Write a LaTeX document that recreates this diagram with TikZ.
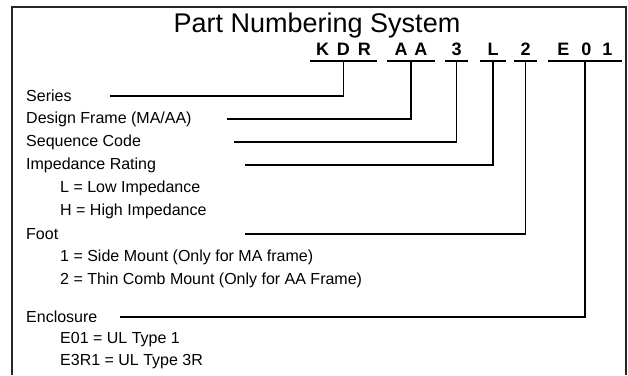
\documentclass[tikz,border=0pt]{standalone}
\usepackage{fontspec}
\setmainfont{Liberation Sans}
\begin{document}
\begin{tikzpicture}[x=1pt,y=-1pt,
				label/.style={anchor=west,inner sep=0pt,font=\fontsize{16}{18}\selectfont},
				code/.style={anchor=base,inner xsep=0pt,inner ysep=6pt,text depth=0pt,font=\fontsize{18}{20}\selectfont\bfseries},
				link/.style={line width=1.7pt}]
\useasboundingbox (0,0) rectangle (628,375);
% frame, open at the bottom
\draw[line width=1.8pt,black!85] (12,375) -- (12,7) -- (626,7) -- (626,375);
\node[anchor=base,inner sep=0pt,font=\fontsize{27}{30}\selectfont] (title) at (317,32) {Part Numbering System};
% the code
\node[code,minimum width=67pt] (kdr) at (343.5,55) {K\hspace{8pt}D\hspace{8pt}R};
\node[code,minimum width=48pt] (aa) at (411,55) {A\hspace{7pt}A};
\node[code,minimum width=23pt] (seq) at (456.5,55) {3};
\node[code,minimum width=26pt] (imp) at (493,55) {L};
\node[code,minimum width=23pt] (foot) at (525.5,55) {2};
\node[code,minimum width=74pt] (enc) at (585,55) {E\hspace{12pt}0\hspace{11pt}1};
\foreach \n in {kdr,aa,seq,imp,foot,enc}
	\draw[link] (\n.south west) -- (\n.south east);
% the labels
\node[label] (series) at (26,96) {Series};
\node[label] (frame) at (26,119) {Design Frame (MA/AA)};
\node[label] (sequence) at (26,142) {Sequence Code};
\node[label] (impedance) at (26,165) {Impedance Rating};
\node[label] (low) at (60,188) {L = Low Impedance};
\node[label] (high) at (60,211) {H = High Impedance};
\node[label] (footlbl) at (26,234) {Foot};
\node[label] (side) at (60,257) {1 = Side Mount (Only for MA frame)};
\node[label] (comb) at (60,280) {2 = Thin Comb Mount (Only for AA Frame)};
\node[label] (enclosure) at (26,317) {Enclosure};
\node[label] (type1) at (60,340) {E01 = UL Type 1};
\node[label] (type3) at (60,362) {E3R1 = UL Type 3R};
% leaders
\coordinate (series-l) at (110,96);
\coordinate (frame-l) at (227,119);
\coordinate (sequence-l) at (234,142);
\coordinate (impedance-l) at (245,165);
\coordinate (foot-l) at (245,234);
\coordinate (enclosure-l) at (120,317);
\draw[link] (series-l) -| (kdr.south);
\draw[link] (frame-l) -| (aa.south);
\draw[link] (sequence-l) -| (seq.south);
\draw[link] (impedance-l) -| (imp.south);
\draw[link] (foot-l) -| (foot.south);
\draw[link] (enclosure-l) -| (enc.south);
\end{tikzpicture}
\end{document}
